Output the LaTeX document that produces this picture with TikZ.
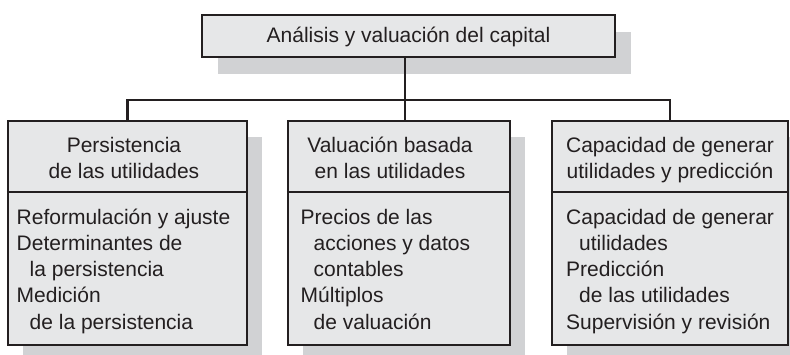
\documentclass[tikz,border=0pt]{standalone}
\usepackage{fontspec}
\setmainfont{Liberation Sans}
\usetikzlibrary{shadows}
\definecolor{boxfill}{HTML}{E6E7E8}
\definecolor{shadowgray}{HTML}{D1D2D4}
\definecolor{ink}{HTML}{231F20}
\begin{document}
\begin{tikzpicture}[x=1pt,y=1pt,
  boxshape/.style={draw=ink, line width=2.5pt, fill=boxfill, rectangle, inner sep=0pt},
  topshadow/.style={drop shadow={shadow xshift=16pt, shadow yshift=-17pt, fill=shadowgray, opacity=1}},
  lowshadow/.style={drop shadow={shadow xshift=15pt, shadow yshift=-16pt, fill=shadowgray, opacity=1}},
  conn/.style={draw=ink, line width=2.3pt},
  txt/.style={font=\fontsize{21}{26.25}\selectfont, inner sep=0pt, text=ink},
]
\useasboundingbox (0,0) rectangle (790,354);

% boxes
\node[boxshape, topshadow, minimum width=413pt, minimum height=42pt,
      font=\fontsize{21}{26.25}\selectfont, text=ink, text height=16pt, text depth=2pt]
      (top) at (408.5,318) {Análisis y valuación del capital};
\node[boxshape, lowshadow, minimum width=239pt, minimum height=224pt] (lbox) at (127.5,121) {};
\node[boxshape, lowshadow, minimum width=222pt, minimum height=224pt] (mbox) at (399,121) {};
\node[boxshape, lowshadow, minimum width=236pt, minimum height=224pt] (rbox) at (670,121) {};

% dividers
\coordinate (divy) at (0,162);
\draw[conn] (lbox.west |- divy) -- (lbox.east |- divy);
\draw[conn] (mbox.west |- divy) -- (mbox.east |- divy);
\draw[conn] (rbox.west |- divy) -- (rbox.east |- divy);

% connectors
\coordinate (bus) at (405,254);
\draw[conn] (top.south -| bus) -- (mbox.north -| bus);
\draw[conn] (lbox.north) -- (lbox.north |- bus) -- (rbox.north |- bus) -- (rbox.north);

% headers
\node[txt, align=center, anchor=north] (lhead) at (124,220.375) {\strut Persistencia\\de las utilidades};
\node[txt, align=center, anchor=north] (mhead) at (390,220.375) {\strut Valuación basada\\en las utilidades};
\node[txt, align=center, anchor=north] (rhead) at (670,220.375) {\strut Capacidad de generar\\utilidades y predicción};

% lists
\node[txt, align=left, anchor=north west] (llist) at (16.5,148.375)
  {\strut Reformulación y ajuste\\Determinantes de\\\hspace*{13pt}la persistencia\\Medición\\\hspace*{13pt}de la persistencia};
\node[txt, align=left, anchor=north west] (mlist) at (300.5,148.375)
  {\strut Precios de las\\\hspace*{13pt}acciones y datos\\\hspace*{13pt}contables\\Múltiplos\\\hspace*{13pt}de valuación};
\node[txt, align=left, anchor=north west] (rlist) at (566,148.375)
  {\strut Capacidad de generar\\\hspace*{13pt}utilidades\\Predicción\\\hspace*{13pt}de las utilidades\\Supervisión y revisión};
\end{tikzpicture}
\end{document}
